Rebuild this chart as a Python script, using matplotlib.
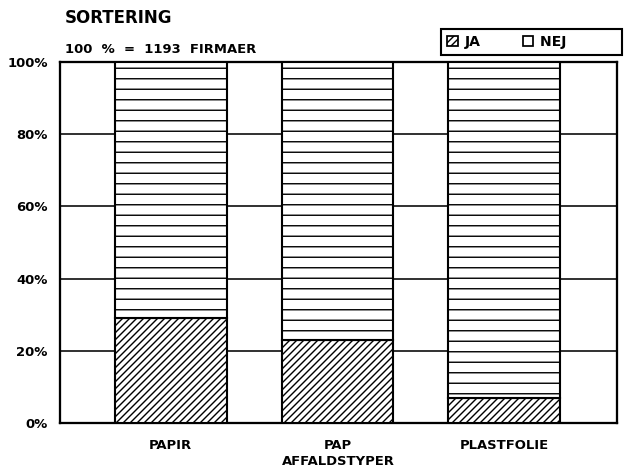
import matplotlib.pyplot as plt
from matplotlib.patches import Patch

plt.rcParams['font.family'] = ['DejaVu Sans']
plt.rcParams['font.weight'] = 'bold'
plt.rcParams['hatch.linewidth'] = 0.8

categories = ['PAPIR', 'PAP', 'PLASTFOLIE']
ja = [29, 23, 7]
nej = [100 - v for v in ja]
yticks = [0, 20, 40, 60, 80, 100]

fig = plt.figure(figsize=(5, 474 / 126), dpi=126)
ax = fig.add_axes([0.0952, 0.1076, 0.8838, 0.7614])

x = list(range(len(categories)))
ax.bar(x, ja, width=0.67, color='white', edgecolor='black', hatch='//////',
       linewidth=1.2, zorder=3)
ax.bar(x, nej, bottom=ja, width=0.67, color='white', edgecolor='black',
       hatch='--', linewidth=1.2, zorder=3)

ax.set_xlim(-0.665, 2.677)
ax.set_ylim(0, 100)
ax.set_yticks(yticks)
ax.set_yticklabels([f'{v}%' for v in yticks])
ax.set_xticks(x)
ax.set_xticklabels(categories)
ax.tick_params(axis='both', length=0, labelsize=7.5, pad=7)
ax.tick_params(axis='x', pad=9)
ax.yaxis.grid(True, color='black', linewidth=0.9, zorder=0)
for s in ax.spines.values():
    s.set_linewidth(1.3)

ax.set_xlabel('AFFALDSTYPER', fontsize=7.5, fontweight='bold', labelpad=2)

fig.text(0.103, 0.962, 'SORTERING', fontsize=9.5, fontweight='bold',
         va='center', ha='left')
fig.text(0.103, 0.895, '100  %  =  1193  FIRMAER', fontsize=7.5,
         fontweight='bold', va='center', ha='left')

handles = [Patch(facecolor='white', edgecolor='black', hatch='//////', label='JA'),
           Patch(facecolor='white', edgecolor='black', label='NEJ          ')]
leg = ax.legend(handles=handles, ncol=2, loc='lower right',
                bbox_to_anchor=(1.009, 1.019), fancybox=False,
                edgecolor='black', framealpha=1, fontsize=8,
                handlelength=0.75, handleheight=0.75, handletextpad=0.5,
                columnspacing=3.0, borderpad=0.45, borderaxespad=0)
leg.get_frame().set_linewidth(1.2)

fig.savefig('out.png', dpi=126)
